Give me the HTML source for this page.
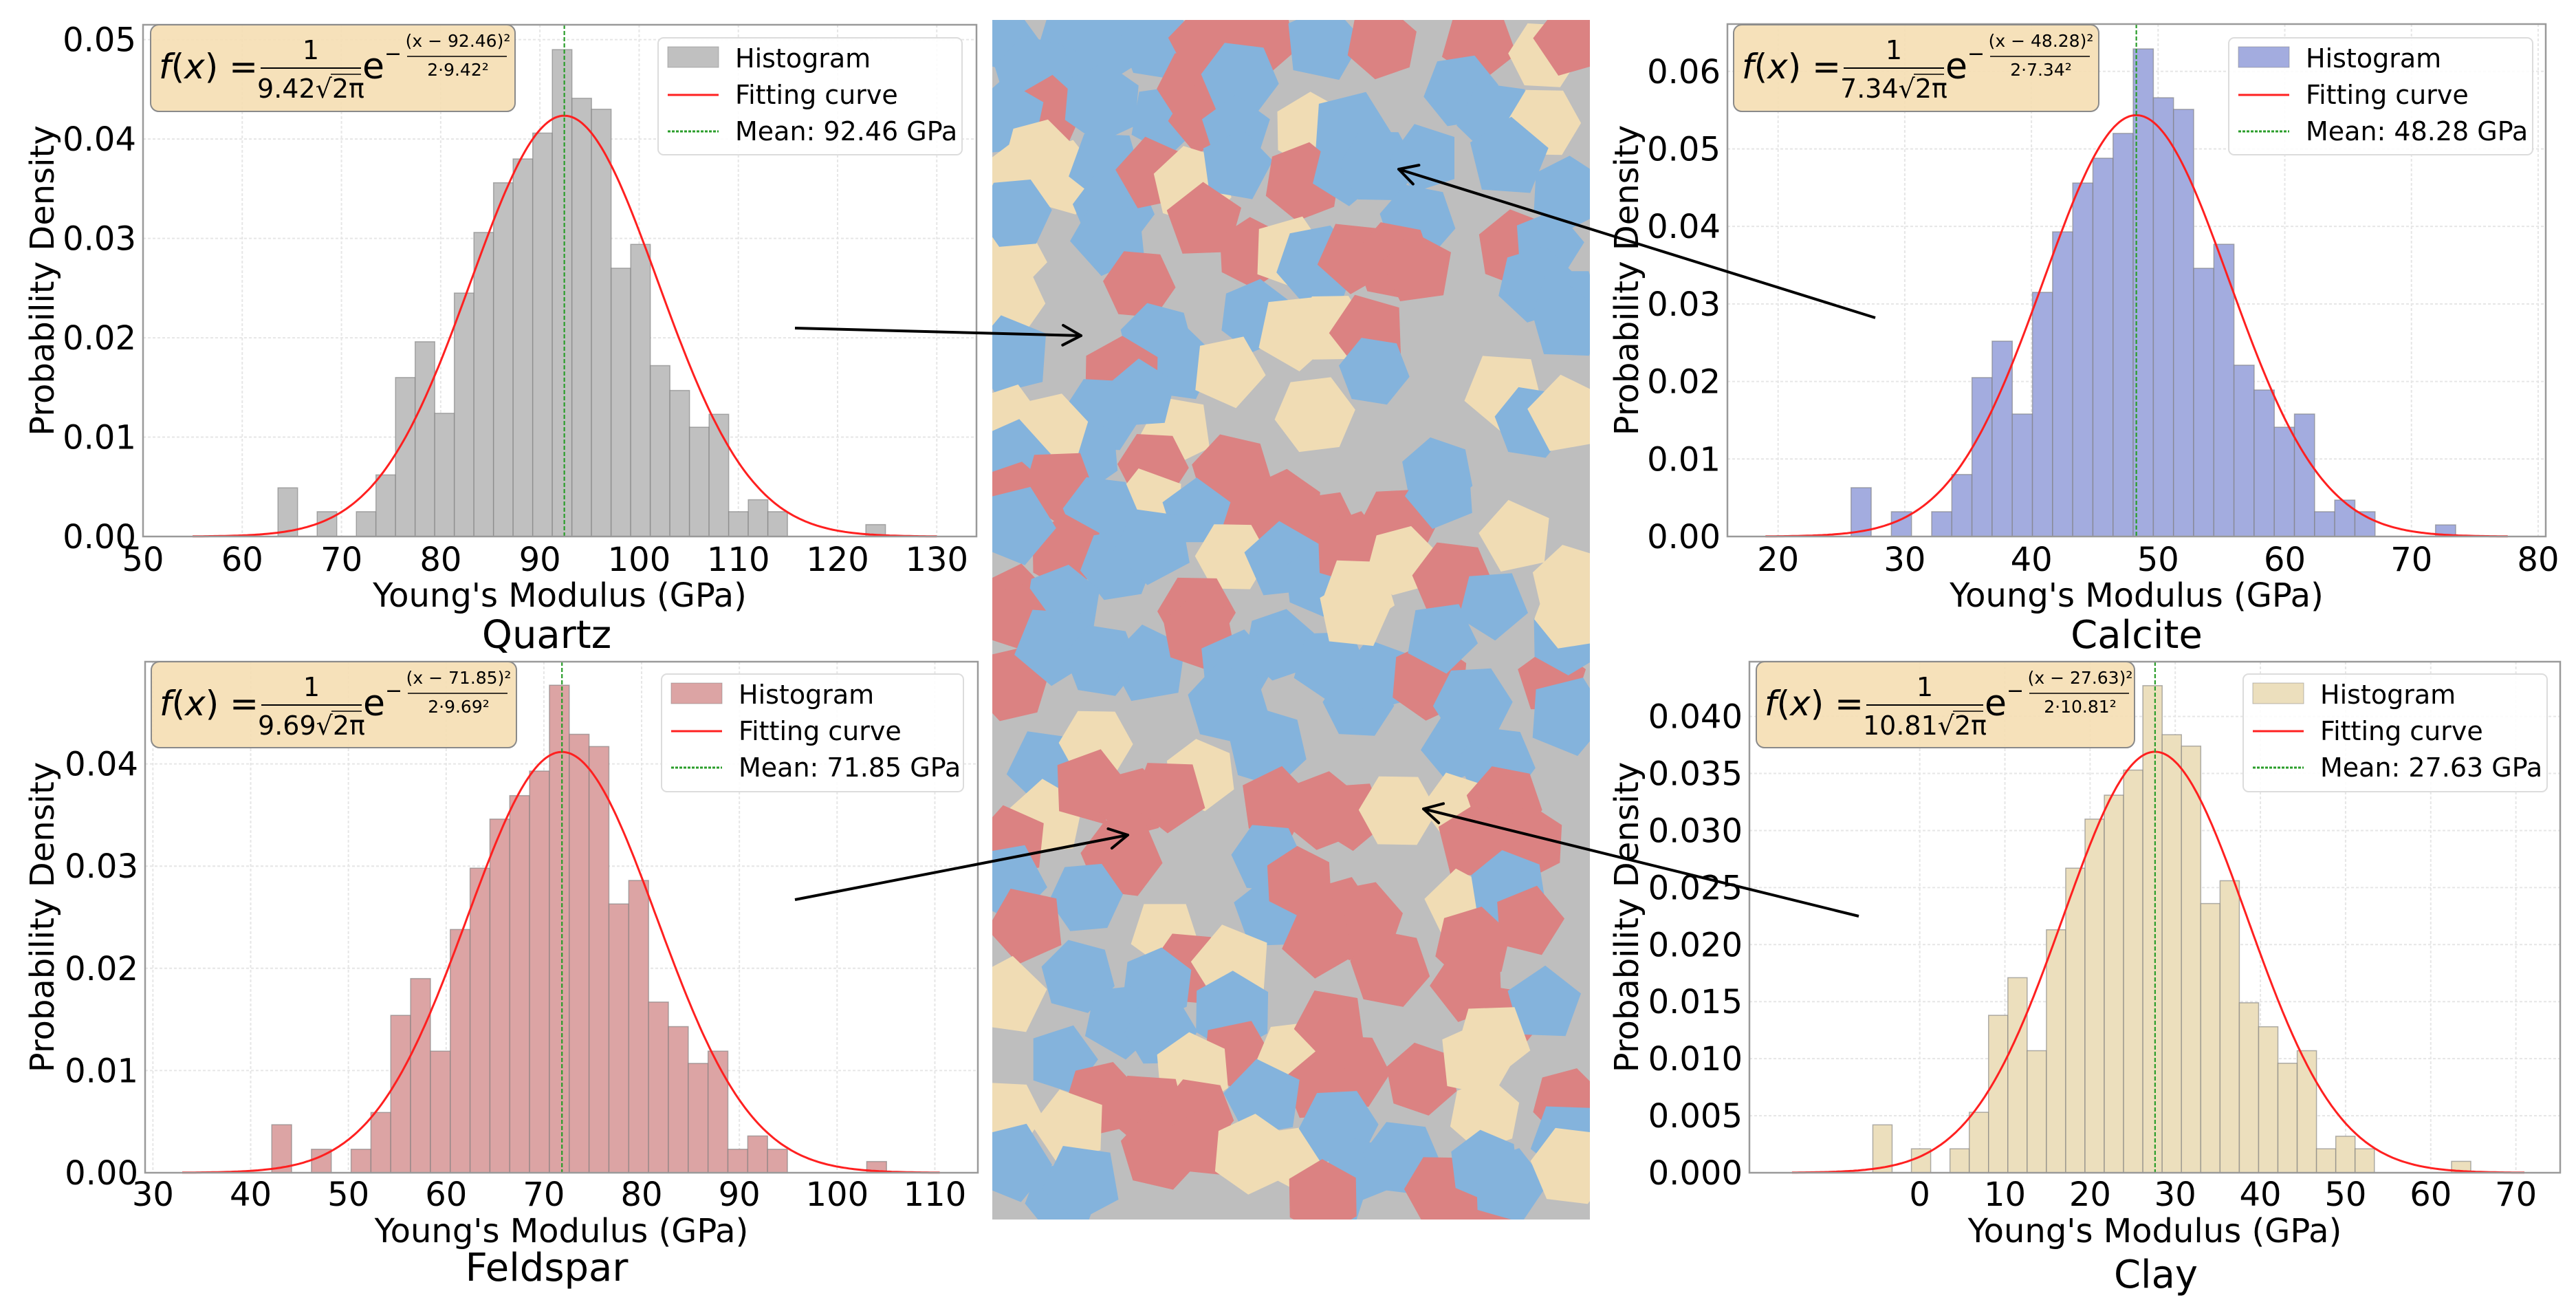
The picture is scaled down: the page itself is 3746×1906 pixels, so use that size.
<!DOCTYPE html>
<html><head><meta charset="utf-8"><style>
html,body{margin:0;padding:0;background:#fff;}
svg{display:block;font-family:"DejaVu Sans","Liberation Sans",sans-serif;}
</style></head><body>
<svg id="fig" xmlns="http://www.w3.org/2000/svg" width="3746" height="1906" viewBox="0 0 3746 1906">
<rect width="3746" height="1906" fill="#fff"/>
<defs><clipPath id="mclip"><rect x="1443" y="29" width="869" height="1744"/></clipPath></defs>
<g id="mosaic" clip-path="url(#mclip)"></g>
<g id="charts"></g>
<g id="arrows"></g>
</svg>
<script>
// ---- chart data ----
const quartzDensity = [0.0049,0,0.0025,0,0.0025,0.0062,0.016,0.0196,0.0124,0.0245,0.0306,0.0356,0.038,0.0406,0.049,0.0441,0.043,0.027,0.0294,0.0172,0.0147,0.011,0.0123,0.0025,0.0037,0.0025,0,0,0,0,0.0012];
const calciteDensity = [0.0063,0,0.0032,0,0.0032,0.008,0.0205,0.0252,0.0158,0.0315,0.0393,0.0456,0.0488,0.052,0.0629,0.0566,0.0551,0.0346,0.0377,0.0221,0.0189,0.0141,0.0158,0.0032,0.0047,0.0032,0,0,0,0.0015];
const feldsparDensity = [0.0047,0,0.0023,0,0.0023,0.0059,0.0154,0.019,0.0119,0.0238,0.0298,0.0346,0.0369,0.0393,0.0477,0.0429,0.0417,0.0263,0.0286,0.0167,0.0143,0.0107,0.0119,0.0023,0.0036,0.0023,0,0,0,0,0.0011];
const clayDensity = [0.0042,0,0.0021,0,0.0021,0.0053,0.0138,0.0171,0.0107,0.0213,0.0267,0.031,0.0331,0.0353,0.0427,0.0384,0.0374,0.0236,0.0256,0.0149,0.0128,0.0096,0.0107,0.0021,0.0032,0.0021,0,0,0,0,0.001];
const binStarts = [63.6, 25.76, 42.16, -5.51];
const binWidths = [1.975, 1.591, 2.029, 2.265];
const fitMeans = [92.46, 48.28, 71.85, 27.63];
const fitSds = [9.42, 7.34, 9.69, 10.81];
const mineralNames = ["Quartz","Calcite","Feldspar","Clay"];
const xTicksQ = [50,60,70,80,90,100,110,120,130];
const xTicksC = [20,30,40,50,60,70,80];
const xTicksF = [30,40,50,60,70,80,90,100,110];
const xTicksK = [0,10,20,30,40,50,60,70];
const yTicksQ = [0,0.01,0.02,0.03,0.04,0.05];
const yTicksC = [0,0.01,0.02,0.03,0.04,0.05,0.06];
const yTicksF = [0,0.01,0.02,0.03,0.04];
const yTicksK = [0,0.005,0.01,0.015,0.02,0.025,0.03,0.035,0.04];

const NS="http://www.w3.org/2000/svg";
function mk(tag,attrs,parent){const e=document.createElementNS(NS,tag);for(const k in attrs)e.setAttribute(k,attrs[k]);if(parent)parent.appendChild(e);return e;}

const layouts=[
 {key:"quartz",dens:quartzDensity,xt:xTicksQ,yt:yTicksQ,dec:2,x0:208,x1:1420,y0:780,y1:36,dom:[50,134],ymax:0.0515,fill:"#c0c0c0",
  tickY:830,xlabY:882,titleY:942,titleX:795,ylabX:78,fb:[219,36,530,126],fe:0,lg:[957,55,442,170],curve:[55,130]},
 {key:"calcite",dens:calciteDensity,xt:xTicksC,yt:yTicksC,dec:2,x0:2512,x1:3702,y0:780,y1:35,dom:[16,80.6],ymax:0.0661,fill:"#a3acdf",
  tickY:830,xlabY:882,titleY:942,titleX:3107,ylabX:2382,fb:[2521,36,531,126],fe:0,lg:[3241,55,442,170],curve:[19,77.6]},
 {key:"feldspar",dens:feldsparDensity,xt:xTicksF,yt:yTicksF,dec:2,x0:211,x1:1422,y0:1705,y1:962,dom:[29.2,114.4],ymax:0.05,fill:"#dca4a4",
  tickY:1753,xlabY:1806,titleY:1862,titleX:795,ylabX:78,fb:[220,962,531,125],fe:0,lg:[962,980,439,171],curve:[33,110.5]},
 {key:"clay",dens:clayDensity,xt:xTicksK,yt:yTicksK,dec:3,x0:2544,x1:3723,y0:1705,y1:962,dom:[-20,75.2],ymax:0.0448,fill:"#ecdfbd",
  tickY:1753,xlabY:1806,titleY:1872,titleX:3135,ylabX:2382,fb:[2554,962,550,125],fe:24,lg:[3262,980,442,171],curve:[-15,71]}
];

const charts=document.getElementById("charts");
layouts.forEach((L,i)=>{
  const g=mk("g",{},charts);
  
  
  const sx=v=>L.x0+(v-L.dom[0])/(L.dom[1]-L.dom[0])*(L.x1-L.x0);
  const sy=v=>L.y0-v/L.ymax*(L.y0-L.y1);
  const grid=mk("g",{},g);
  
  
  L.xt.forEach(t=>{mk("line",{x1:sx(t),x2:sx(t),y1:L.y1,y2:L.y0,stroke:"#e6e6e6","stroke-width":2,"stroke-dasharray":"4 3"},grid);});
  L.yt.forEach(t=>{mk("line",{x1:L.x0,x2:L.x1,y1:sy(t),y2:sy(t),stroke:"#e6e6e6","stroke-width":2,"stroke-dasharray":"4 3"},grid);});
  const bars=mk("g",{},g);
  
  
  L.dens.forEach((d,j)=>{
    if(d<=0)return;
    const a=binStarts[i]+j*binWidths[i], b=a+binWidths[i];
    const r=mk("rect",{x:sx(a),y:sy(d),width:sx(b)-sx(a),height:L.y0-sy(d),fill:L.fill,stroke:"#7d7d7d","stroke-opacity":0.6,"stroke-width":1.5},bars);
    
    
  });
  const m=fitMeans[i], s=fitSds[i];
  let pts=[];
  for(let k=0;k<=300;k++){const x=L.curve[0]+(L.curve[1]-L.curve[0])*k/300;const y=Math.exp(-((x-m)**2)/(2*s*s))/(s*Math.sqrt(2*Math.PI));pts.push(sx(x).toFixed(1)+","+sy(y).toFixed(1));}
  const c=mk("polyline",{points:pts.join(" "),fill:"none",stroke:"#ff2020","stroke-width":3},g);
  
  
  const ml=mk("line",{x1:sx(m),x2:sx(m),y1:L.y1,y2:L.y0,stroke:"#2a9d2a","stroke-width":2.2,"stroke-dasharray":"6 3"},g);
  
  
  const fr=mk("rect",{x:L.x0,y:L.y1,width:L.x1-L.x0,height:L.y0-L.y1,fill:"none",stroke:"#9a9a9a","stroke-width":2.5},g);
  
  
  L.xt.forEach(t=>{
    const tx=mk("text",{x:sx(t),y:L.tickY,"font-size":48,"text-anchor":"middle",fill:"#000"},g);
    tx.textContent=String(t);
    
    
  });
  L.yt.forEach(t=>{
    const ty=mk("text",{x:L.x0-10,y:sy(t)+17,"font-size":48,"text-anchor":"end",fill:"#000"},g);
    ty.textContent=t.toFixed(L.dec);
    
    
  });
  const xl=mk("text",{x:(L.x0+L.x1)/2,y:L.xlabY,"font-size":48,"text-anchor":"middle",fill:"#000"},g);
  xl.textContent="Young's Modulus (GPa)";
  
  
  const yl=mk("text",{x:0,y:0,"font-size":48,"text-anchor":"middle",fill:"#000",transform:`translate(${L.ylabX},${(L.y0+L.y1)/2}) rotate(-90)`},g);
  yl.textContent="Probability Density";
  
  
  const tt=mk("text",{x:L.titleX,y:L.titleY,"font-size":56,"text-anchor":"middle",fill:"#000"},g);
  tt.textContent=mineralNames[i];
  
  
  const [bx,by,bw,bh]=L.fb, e=L.fe;
  const fg=mk("g",{},g);
  
  
  mk("rect",{x:bx,y:by,width:bw,height:bh,rx:12,fill:"#f5deb3","fill-opacity":0.9,stroke:"#8a8a8a","stroke-width":2},fg);
  const f1=mk("text",{x:bx+12,y:by+78,"font-size":50,fill:"#000"},fg);
  f1.innerHTML='<tspan font-style="italic">f</tspan>(<tspan font-style="italic">x</tspan>) =';
  const n1=mk("text",{x:bx+233+e/2,y:by+50,"font-size":38,"text-anchor":"middle"},fg); n1.textContent="1";
  mk("line",{x1:bx+160,x2:bx+306+e,y1:by+63,y2:by+63,stroke:"#000","stroke-width":2},fg);
  const d1=mk("text",{x:bx+233+e/2,y:by+106,"font-size":38,"text-anchor":"middle"},fg); d1.textContent=s.toFixed(2)+"√2π";
  mk("line",{x1:bx+262+e,x2:bx+306+e,y1:by+72,y2:by+72,stroke:"#000","stroke-width":1.5},fg);
  const ee=mk("text",{x:bx+308+e,y:by+78,"font-size":52},fg); ee.textContent="e";
  const mi=mk("text",{x:bx+340+e,y:by+52,"font-size":30},fg); mi.textContent="−";
  const n2=mk("text",{x:bx+447+e,y:by+32,"font-size":25,"text-anchor":"middle"},fg); n2.textContent="(x − "+m.toFixed(2)+")²";
  mk("line",{x1:bx+373+e,x2:bx+518+e,y1:by+46,y2:by+46,stroke:"#000","stroke-width":1.5},fg);
  const d2=mk("text",{x:bx+447+e,y:by+74,"font-size":25,"text-anchor":"middle"},fg); d2.textContent="2·"+s.toFixed(2)+"²";
  const [lx,ly,lw,lh]=L.lg;
  const lg=mk("g",{},g);
  
  
  mk("rect",{x:lx,y:ly,width:lw,height:lh,rx:8,fill:"#fff","fill-opacity":0.85,stroke:"#dcdcdc","stroke-width":2},lg);
  mk("rect",{x:lx+14,y:ly+13,width:74,height:30,fill:L.fill,stroke:"#7d7d7d","stroke-opacity":0.5},lg);
  mk("line",{x1:lx+14,x2:lx+88,y1:ly+83,y2:ly+83,stroke:"#ff2020","stroke-width":3},lg);
  mk("line",{x1:lx+14,x2:lx+88,y1:ly+136,y2:ly+136,stroke:"#2a9d2a","stroke-width":3,"stroke-dasharray":"4 2"},lg);
  const labs=["Histogram","Fitting curve","Mean: "+m.toFixed(2)+" GPa"];
  labs.forEach((t,k)=>{
    const lt=mk("text",{x:lx+112,y:ly+43+k*53,"font-size":38,fill:"#000"},lg);
    lt.textContent=t;
    
    
  });
});

// ---- mosaic (decorative) ----
const mosaicTopSeeds=[[50,100,'b'],[230,110,'b'],[330,100,'b'],[440,110,'b'],[570,110,'r'],[700,100,'r'],[860,110,'b'],[1010,110,'r'],[1255,110,'r'],[1420,140,'y'],[1490,100,'r'],
[130,190,'b'],[165,285,'r'],[300,260,'b'],[460,300,'b'],[540,220,'r'],[560,300,'r'],[650,200,'b'],[640,330,'b'],[830,330,'y'],[930,330,'b'],[1210,230,'b'],[1300,300,'b'],[1420,310,'y'],
[60,300,'b'],[100,440,'y'],[200,450,'y'],[140,390,'y'],[310,420,'b'],[330,530,'b'],[430,440,'r'],[530,470,'y'],[640,420,'b'],[810,460,'r'],[920,430,'b'],[1000,420,'b'],[1120,400,'b'],[1100,560,'b'],[1330,400,'b'],[1480,490,'b'],
[60,650,'y'],[80,540,'b'],[320,600,'b'],[395,720,'r'],[560,560,'r'],[680,640,'r'],[775,640,'y'],[845,670,'b'],[940,650,'r'],[1040,660,'r'],[1100,680,'r'],[1350,630,'r'],[1430,620,'b'],[1400,720,'b'],[1480,760,'b'],
[60,760,'y'],[70,900,'b'],[440,860,'b'],[490,920,'b'],[690,800,'b'],[790,840,'y'],[880,830,'y'],[975,840,'r'],[990,940,'b'],[1480,820,'b'],[350,955,'r'],
[620,940,'y'],[840,1050,'y'],[490,1090,'y'],[300,1050,'b'],[400,1000,'b'],[250,1150,'b'],[60,1060,'y'],[170,1090,'y'],[1320,990,'y'],[1390,1070,'b'],[1480,1050,'y'],[1150,1200,'b'],
[70,1160,'b'],[80,1260,'r'],[190,1230,'r'],[430,1180,'r'],[420,1280,'y'],[630,1200,'r'],[680,1300,'r'],[760,1290,'r'],[860,1330,'r'],[1050,1330,'r'],[1160,1250,'b'],[300,1300,'b'],[540,1300,'b'],
[210,1400,'r'],[80,1330,'b'],[340,1430,'b'],[430,1380,'b'],[630,1410,'y'],[760,1420,'b'],[850,1470,'b'],[930,1390,'r'],[1060,1420,'y'],[950,1500,'y'],[1190,1470,'r'],[1350,1360,'y'],[1490,1480,'y'],[80,1520,'r'],[200,1530,'b'],[1290,1530,'b'],[540,1550,'r']];
const mosaicBottomSeeds=[[80,30,'r'],[70,200,'r'],[180,100,'b'],[300,140,'b'],[420,150,'b'],[545,70,'r'],[640,160,'b'],[750,100,'b'],[880,150,'b'],[950,250,'b'],[1000,180,'b'],[620,250,'b'],[940,20,'y'],[1130,190,'r'],[1160,80,'b'],[1240,250,'b'],[1200,360,'b'],[1300,400,'b'],[1440,190,'r'],[1480,80,'b'],[1480,280,'b'],[1490,20,'y'],
[160,410,'b'],[285,350,'y'],[160,540,'y'],[550,430,'y'],[270,460,'r'],[380,500,'r'],[470,480,'r'],[350,640,'r'],[70,600,'r'],[720,360,'b'],[740,500,'r'],[860,520,'r'],[930,530,'r'],[1050,520,'y'],[1200,510,'y'],[1320,500,'r'],[1250,600,'r'],[1380,600,'r'],
[60,700,'b'],[260,740,'b'],[110,810,'r'],[720,640,'b'],[730,780,'b'],[800,700,'r'],[900,780,'r'],[960,800,'r'],[850,850,'r'],[1030,920,'r'],[1210,760,'y'],[1330,720,'b'],[1380,800,'r'],[1240,860,'r'],[460,830,'y'],[520,920,'r'],[630,910,'y'],[240,940,'b'],[60,990,'y'],[440,960,'b'],[350,1050,'b'],[450,1080,'b'],[1230,960,'r'],[1320,1050,'r'],[1420,1010,'b'],
[630,1030,'b'],[640,1140,'r'],[790,1150,'y'],[880,1060,'r'],[930,1180,'r'],[850,1220,'r'],[530,1180,'y'],[200,1150,'b'],[300,1250,'r'],[420,1280,'r'],[540,1290,'r'],[710,1250,'b'],[1110,1200,'r'],[1250,1150,'y'],[1270,1290,'y'],[1290,1100,'y'],[60,1290,'y'],[220,1320,'y'],
[450,1380,'r'],[560,1360,'r'],[680,1390,'y'],[800,1400,'y'],[900,1320,'b'],[950,1430,'b'],[1060,1400,'b'],[880,1520,'b'],[860,1500,'r'],[70,1410,'b'],[200,1500,'b'],[250,1460,'b'],[1160,1480,'r'],[1270,1500,'r'],[1270,1420,'b'],[1330,1470,'b'],[1480,1260,'r'],[1480,1350,'b'],[1490,1420,'y']];
(function(){
  const mg=document.getElementById("mosaic");
  mk("rect",{x:1443,y:29,width:869,height:1744,fill:"#bebebe"},mg);
  const col={b:"#84b3dc",r:"#db8282",y:"#f0dcb4"};
  const draw=(arr,oy)=>arr.forEach((p,idx)=>{
    const cx=1430+p[0]/1.742, cy=oy+p[1]/1.742;
    const n=5+(idx%2), rot=(idx*47)%72*Math.PI/180, r=52+((idx*13)%9);
    let pts=[];
    for(let k=0;k<n;k++){const a=rot+k*2*Math.PI/n;pts.push((cx+r*Math.cos(a)).toFixed(1)+","+(cy+r*Math.sin(a)).toFixed(1));}
    mk("polygon",{points:pts.join(" "),fill:col[p[2]]},mg);
  });
  draw(mosaicTopSeeds,0);
  draw(mosaicBottomSeeds,880);
})();

// ---- arrows ----
(function(){
  const ag=document.getElementById("arrows");
  const arrows=[[1156,477,1572,488],[2727,462,2034,246],[1156,1308,1640,1214],[2703,1332,2070,1176]];
  arrows.forEach(a=>{
    const g=mk("g",{},ag);
    
    
    mk("line",{x1:a[0],y1:a[1],x2:a[2],y2:a[3],stroke:"#000","stroke-width":4},g);
    const ang=Math.atan2(a[3]-a[1],a[2]-a[0]);
    [0.5,-0.5].forEach(d=>{
      mk("line",{x1:a[2],y1:a[3],x2:a[2]-30*Math.cos(ang+d),y2:a[3]-30*Math.sin(ang+d),stroke:"#000","stroke-width":4,"stroke-linecap":"round"},g);
    });
  });
})();
</script>
</body></html>
